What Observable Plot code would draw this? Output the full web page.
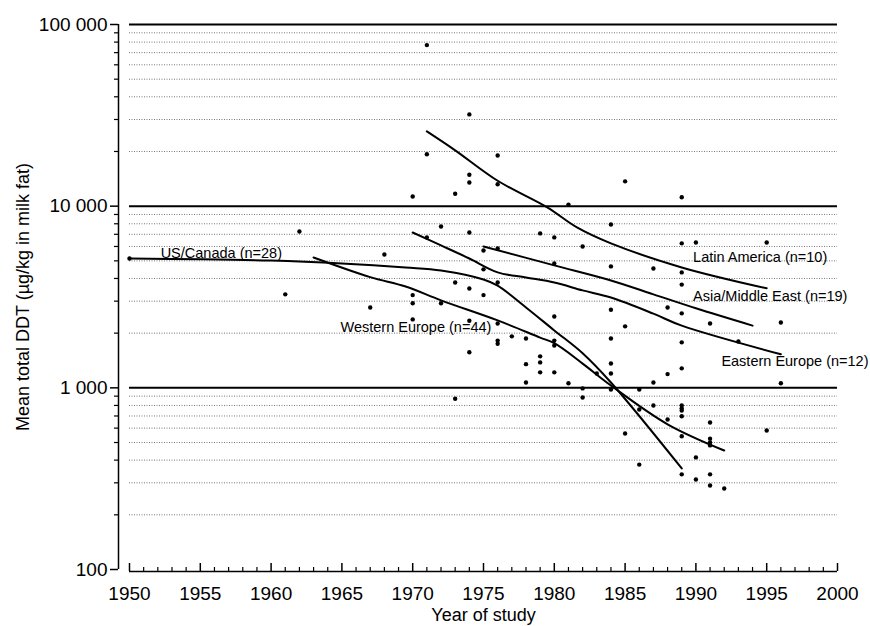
<!DOCTYPE html>
<html>
<head>
<meta charset="utf-8">
<script src="https://cdn.jsdelivr.net/npm/d3@7"></script>
<script src="https://cdn.jsdelivr.net/npm/@observablehq/plot@0.6"></script>
<style>
  body { margin: 0; background: white; }
</style>
</head>
<body>
<div id="chart"></div>
<script>
// ---- Data ----
const pointYears = [
  1950, 1961, 1962, 1967, 1968,
  1970, 1970, 1970, 1970,
  1971, 1971, 1971,
  1972, 1972,
  1973, 1973, 1973,
  1974, 1974, 1974, 1974, 1974, 1974, 1974,
  1975, 1975, 1975,
  1976, 1976, 1976, 1976, 1976, 1976, 1976,
  1977,
  1978, 1978, 1978,
  1979, 1979, 1979, 1979,
  1980, 1980, 1980, 1980, 1980, 1980,
  1981, 1981,
  1982, 1982, 1982,
  1983,
  1984, 1984, 1984, 1984, 1984, 1984, 1984,
  1985, 1985, 1985,
  1986, 1986, 1986,
  1987, 1987, 1987,
  1988, 1988, 1988,
  1989, 1989, 1989, 1989, 1989, 1989, 1989, 1989, 1989, 1989, 1989, 1989, 1989,
  1990, 1990, 1990,
  1991, 1991, 1991, 1991, 1991, 1991, 1991,
  1992, 1993,
  1995, 1995,
  1996, 1996
];
const pointValues = [
  5150, 3270, 7260, 2770, 5420,
  11300, 3240, 2920, 2380,
  77000, 19300, 6730,
  7730, 2920,
  11700, 3800, 870,
  32000, 14900, 13500, 7160, 3520, 2340, 1570,
  5700, 4490, 3240,
  19000, 13200, 5850, 3800, 2260, 1820, 1750,
  1920,
  1870, 1350, 1070,
  7080, 1490, 1380, 1217,
  6730, 4840, 2470, 1820, 1710, 1217,
  10200, 1060,
  6000, 993, 885,
  1200,
  7920, 4660, 2690, 1870, 1360, 1200, 980,
  13700, 2180, 561,
  980, 760, 378,
  4540, 1070, 800,
  2770, 1190, 670,
  11200, 6240, 4320, 3700, 2570, 1780, 1280, 800, 771, 751, 697, 541, 334,
  6310, 414, 313,
  2260, 645, 525, 500, 482, 334, 290,
  279, 1800,
  6310, 582,
  2290, 1060
];

// Trend lines (smoothed curves) per region
const usYears   = [1950, 1960, 1965, 1969.5, 1972, 1975, 1976, 1978, 1980, 1982, 1984, 1989];
const usValues  = [5150, 5020, 4840, 4600, 4430, 3950, 3650, 2770, 2070, 1550, 1070, 360];
const weYears   = [1963, 1967, 1969.5, 1972, 1976, 1979, 1980, 1982, 1984, 1988, 1992];
const weValues  = [5220, 4070, 3610, 3030, 2350, 1890, 1760, 1360, 1030, 630, 452];
const laYears   = [1971, 1973, 1976, 1979.5, 1981.6, 1984, 1989, 1995];
const laValues  = [25800, 20300, 13800, 9850, 7640, 6240, 4600, 3530];
const asYears   = [1975, 1980, 1984, 1987, 1990, 1994];
const asValues  = [6000, 4720, 3900, 3270, 2740, 2200];
const eeYears   = [1970, 1972, 1974, 1976, 1978, 1980, 1982, 1984, 1987, 1989, 1996];
const eeValues  = [7160, 6080, 5150, 4320, 4050, 3800, 3440, 3140, 2560, 2200, 1530];

const labelTexts  = ["US/Canada (n=28)", "Western Europe (n=44)", "Latin America (n=10)", "Asia/Middle East (n=19)", "Eastern Europe (n=12)"];
const labelYears  = [1952.2, 1964.9, 1989.8, 1989.8, 1991.8];
const labelValues = [5500, 2150, 5220, 3190, 1400];

const xMajorTicks = [1950, 1955, 1960, 1965, 1970, 1975, 1980, 1985, 1990, 1995, 2000];
const xMinorTicks = d3.range(1950, 2001).filter(y => y % 5 !== 0);
const yMajorTicks = [100, 1000, 10000, 100000];
const yMinorTicks = [200,300,400,500,600,700,800,900,2000,3000,4000,5000,6000,7000,8000,9000,20000,30000,40000,50000,60000,70000,80000,90000];
const gridDecades = [1000, 10000, 100000];

const xTitle = "Year of study";
const yTitle = "Mean total DDT (µg/kg in milk fat)";

// ---- Build tables ----
const points = pointYears.map((y, i) => ({year: y, value: pointValues[i]}));
const series = [
  ["US/Canada", usYears, usValues],
  ["Western Europe", weYears, weValues],
  ["Latin America", laYears, laValues],
  ["Asia/Middle East", asYears, asValues],
  ["Eastern Europe", eeYears, eeValues]
];
const lineRows = series.flatMap(([name, ys, vs]) => ys.map((y, i) => ({region: name, year: y, value: vs[i]})));
const labels = labelTexts.map((t, i) => ({text: t, year: labelYears[i], value: labelValues[i]}));

const fmt = d => String(d).replace(/\B(?=(\d{3})+(?!\d))/g, " ");

const chart = Plot.plot({
  width: 870,
  height: 626,
  marginLeft: 129,
  marginRight: 33,
  marginTop: 24,
  marginBottom: 57,
  x: {domain: [1950, 2000]},
  y: {type: "log", domain: [100, 100000]},
  style: {fontFamily: "'Liberation Sans', Arial, Helvetica, sans-serif", background: "white", color: "black", overflow: "visible"},
  marks: [
    // gridlines
    Plot.ruleY(yMinorTicks, {x1: 1950, x2: 2000, stroke: "#555", strokeWidth: 1, strokeDasharray: "1,1.5", strokeOpacity: 0.8}),
    Plot.ruleY(gridDecades, {x1: 1950, x2: 2000, stroke: "black", strokeWidth: 2}),
    // y axis (offset left of plot)
    Plot.ruleX([1950], {y1: 100, y2: 100000, dx: -11, stroke: "black", strokeWidth: 1.5}),
    Plot.axisY(yMajorTicks, {tickSize: 8, dx: -11, tickPadding: 3, fontSize: 19, tickFormat: fmt, label: null, strokeWidth: 1.5}),
    Plot.axisY(yMinorTicks, {tickSize: 4, dx: -11, tickFormat: () => "", label: null, strokeWidth: 1.2}),
    // x axis (offset below plot), ticks pointing up
    Plot.ruleY([100], {x1: 1950, x2: 2000, dy: 2, stroke: "black", strokeWidth: 1.5}),
    Plot.ruleX(xMajorTicks, {x: d => d, y1: 100, y2: 100, insetTop: -8, dy: 2, stroke: "black", strokeWidth: 1.5}),
    Plot.ruleX(xMinorTicks, {x: d => d, y1: 100, y2: 100, insetTop: -4, dy: 2, stroke: "black", strokeWidth: 1.2}),
    Plot.axisX(xMajorTicks, {tickSize: 0, tickPadding: 17, fontSize: 19, tickFormat: d => String(d), label: null}),
    // titles
    Plot.text([xTitle], {text: d => d, frameAnchor: "bottom", textAnchor: "middle", lineAnchor: "middle", dy: 46, fontSize: 18}),
    Plot.text([yTitle], {text: d => d, frameAnchor: "left", textAnchor: "middle", lineAnchor: "middle", rotate: -90, dx: -106, fontSize: 18}),
    // data
    Plot.line(lineRows, {x: "year", y: "value", z: "region", curve: "catmull-rom", stroke: "black", strokeWidth: 2}),
    Plot.dot(points, {x: "year", y: "value", r: 2.2, fill: "black", stroke: "none"}),
    Plot.text(labels, {x: "year", y: "value", text: "text", textAnchor: "start", fontSize: 14.5, fill: "black"})
  ]
});
document.getElementById("chart").appendChild(chart);
</script>
</body>
</html>
